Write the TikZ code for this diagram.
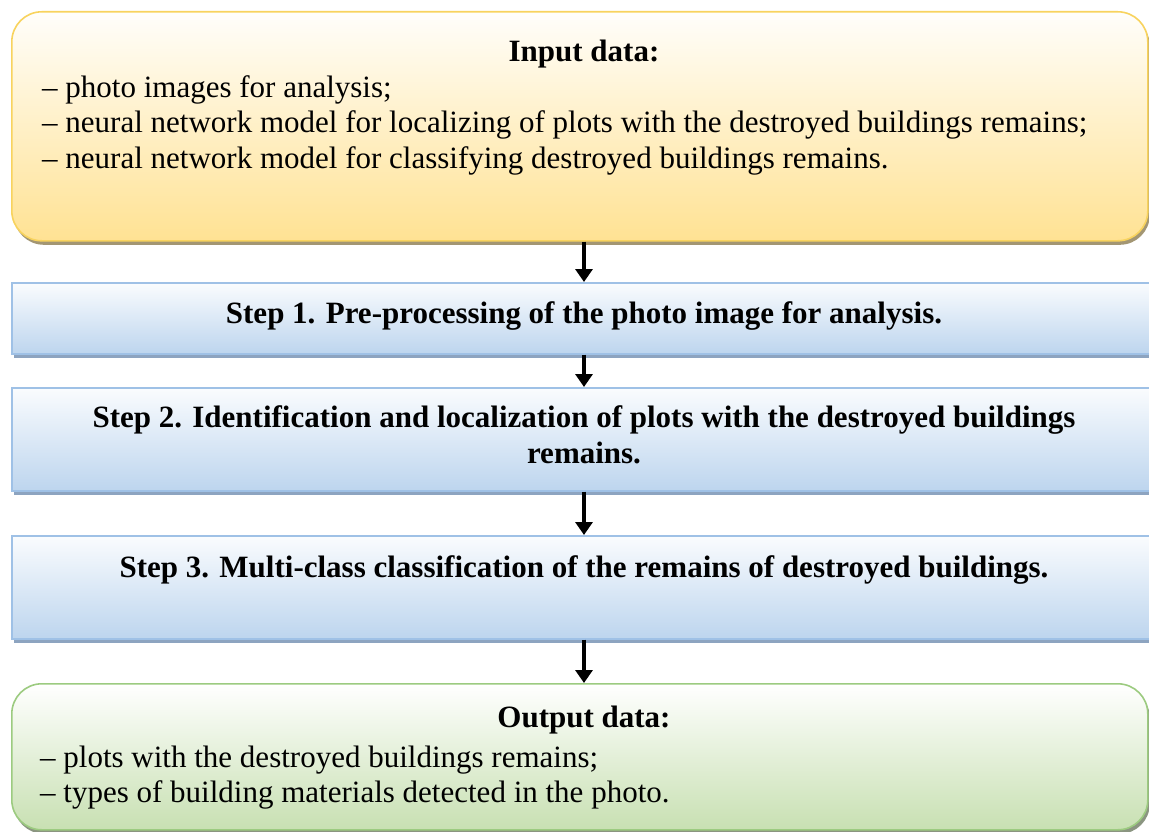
\documentclass[tikz,border=0pt]{standalone}
\usepackage{fontspec}
\setmainfont{Liberation Serif}
\usetikzlibrary{arrows.meta,shadows}
\definecolor{inTop}{HTML}{FFFEFB}
\definecolor{inBot}{HTML}{FFE293}
\definecolor{inLine}{HTML}{F8D35E}
\definecolor{stTop}{HTML}{FAFCFE}
\definecolor{stBot}{HTML}{BDD5EE}
\definecolor{stLine}{HTML}{9FC1E6}
\definecolor{stShadow}{HTML}{8DA4C0}
\definecolor{outTop}{HTML}{FFFFFF}
\definecolor{outBot}{HTML}{C8E0B2}
\definecolor{outLine}{HTML}{9CCB80}
\tikzset{
  inbox/.style={draw=inLine, line width=1.6pt, rounded corners=30pt, top color=inTop, bottom color=inBot,
    anchor=north west, inner sep=0pt,
    drop shadow={shadow xshift=2pt, shadow yshift=-4pt, fill=black!45!inBot, opacity=0.8}},
  stepbox/.style={draw=stLine, line width=1.5pt, top color=stTop, bottom color=stBot,
    anchor=north west, inner sep=0pt, minimum width=1170pt,
    drop shadow={shadow xshift=2pt, shadow yshift=-4pt, fill=stShadow, opacity=1}},
  outbox/.style={draw=outLine, line width=1.6pt, rounded corners=30pt, top color=outTop, bottom color=outBot,
    anchor=north west, inner sep=0pt,
    drop shadow={shadow xshift=2pt, shadow yshift=-4pt, fill=black!45!outBot, opacity=0.8}},
  txt/.style={font=\fontsize{31}{37}\selectfont, inner sep=0pt, anchor=base west},
  ttl/.style={font=\fontsize{31}{37}\selectfont\bfseries, inner sep=0pt, anchor=base},
  arr/.style={line width=3.5pt, -{Triangle[length=13pt,width=17pt]}, black}
}
\begin{document}
\begin{tikzpicture}[x=1pt,y=-1pt]
\useasboundingbox (0,0) rectangle (1149,832);
\clip (0,0) rectangle (1149,832);
\fill[white] (0,0) rectangle (1149,832);
\coordinate (ax) at (584,0);
% boxes
\node[inbox, minimum width=1136pt, minimum height=229pt] (in) at (11,11) {};
\node[stepbox, minimum height=71pt] (s1) at (11,282) {};
\node[stepbox, minimum height=103pt] (s2) at (11,387) {};
\node[stepbox, minimum height=103pt] (s3) at (11,535) {};
\node[outbox, minimum width=1136pt, minimum height=146pt] (out) at (11,683) {};
% texts
\node[ttl] (t0) at (584,62) {Input data:};
\node[txt] (t1) at (42,98) {– photo images for analysis;};
\node[txt] (t2) at (42,133) {– neural network model for localizing of plots with the destroyed buildings remains;};
\node[txt] (t3) at (42,169) {– neural network model for classifying destroyed buildings remains.};
\node[ttl] (u1) at (584,323) {Step 1. Pre-processing of the photo image for analysis.};
\node[ttl] (u2) at (584,427) {Step 2. Identification and localization of plots with the destroyed buildings};
\node[ttl] (u2b) at (584,463) {remains.};
\node[ttl] (u3) at (584,577) {Step 3. Multi-class classification of the remains of destroyed buildings.};
\node[ttl] (o0) at (584,727) {Output data:};
\node[txt] (o1) at (40,767) {– plots with the destroyed buildings remains;};
\node[txt] (o2) at (40,802) {– types of building materials detected in the photo.};
% arrows
\draw[arr] (in.south -| ax) -- (s1.north -| ax);
\draw[arr] (s1.south -| ax) -- (s2.north -| ax);
\draw[arr] (s2.south -| ax) -- (s3.north -| ax);
\draw[arr] (s3.south -| ax) -- (out.north -| ax);
\end{tikzpicture}
\end{document}
